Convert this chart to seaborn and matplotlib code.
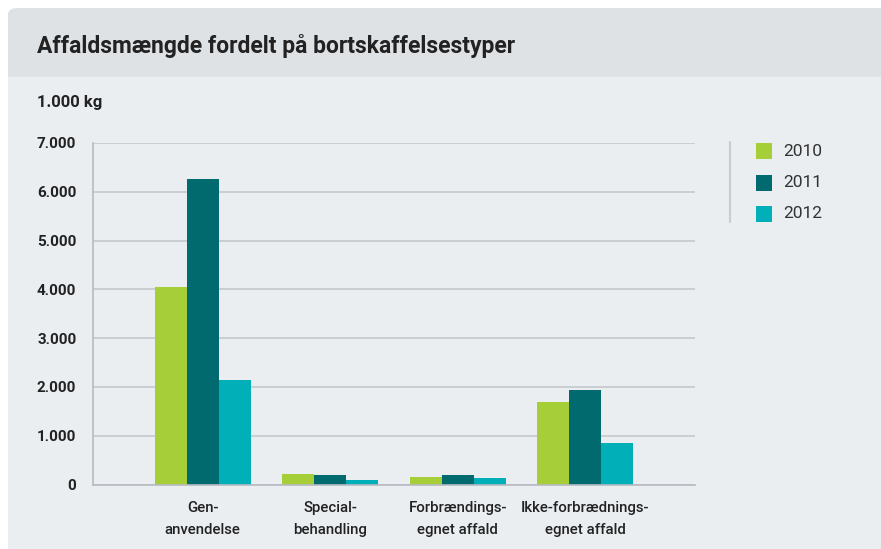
import matplotlib
matplotlib.use("Agg")
import matplotlib.pyplot as plt
import seaborn as sns
import pandas as pd
from matplotlib.patches import FancyBboxPatch, Rectangle
from matplotlib.lines import Line2D

categories = ["Gen-\nanvendelse", "Special-\nbehandling", "Forbrændings-\negnet affald", "Ikke-forbrædnings-\negnet affald"]
years = ["2010", "2011", "2012"]
values_2010 = [4055, 215, 150, 1690]
values_2011 = [6270, 190, 190, 1932]
values_2012 = [2137, 88, 130, 850]
colors = ["#a6ce39", "#006a6f", "#00afb7"]
yticks = [0, 1000, 2000, 3000, 4000, 5000, 6000, 7000]
ytick_labels = ["0", "1.000", "2.000", "3.000", "4.000", "5.000", "6.000", "7.000"]

df = pd.DataFrame({
    "cat": categories * 3,
    "year": [y for y in years for _ in categories],
    "value": values_2010 + values_2011 + values_2012,
})

sns.set_theme(style="white")
plt.rcParams["font.family"] = ["Roboto", "DejaVu Sans"]

W, H = 881, 549
fig = plt.figure(figsize=(W / 100, H / 100), dpi=100)
fig.patch.set_facecolor("white")

# card background
fig.patches.append(FancyBboxPatch((8 / W, -0.05), 1.0, (H - 8) / H + 0.05,
                                  boxstyle="round,pad=0,rounding_size=0.012",
                                  transform=fig.transFigure, facecolor="#eaeef1",
                                  edgecolor="none", zorder=-2))
fig.patches.append(FancyBboxPatch((8 / W, (H - 77) / H), 1.0, 69 / H,
                                  boxstyle="round,pad=0,rounding_size=0.012",
                                  transform=fig.transFigure, facecolor="#dfe2e5",
                                  edgecolor="none", zorder=-1))
fig.patches.append(Rectangle((8 / W, (H - 77) / H), 1.0, 20 / H,
                             transform=fig.transFigure, facecolor="#dfe2e5",
                             edgecolor="none", zorder=-1))

fig.text(37 / W, 1 - 46 / H, "Affaldsmængde fordelt på bortskaffelsestyper",
         fontsize=16.5, fontweight="bold", color="#222222", va="center", ha="left")
fig.text(37 / W, 1 - 103 / H, "1.000 kg", fontsize=12, fontweight="bold",
         color="#222222", va="center", ha="left")

ax = fig.add_axes([93 / W, 1 - 484.5 / H, (695 - 93) / W, (484.5 - 143) / H])
ax.set_facecolor("none")
sns.barplot(data=df, x="cat", y="value", hue="year", palette=colors,
            width=0.753, saturation=1, linewidth=0, ax=ax, legend=False)

ax.set_xlim(-0.86, 3.86)
ax.set_ylim(0, 7000)
ax.set_yticks(yticks)
ax.set_yticklabels(ytick_labels, fontsize=11, fontweight="bold", color="#222222")
ax.yaxis.grid(True, color="#c3c8cd", linewidth=1.2)
ax.set_axisbelow(True)
ax.tick_params(axis="both", length=0, pad=12)
ax.tick_params(axis="x", labelsize=10.8, labelcolor="#222222", pad=12)
for lbl in ax.get_xticklabels():
    lbl.set_fontweight("medium")
    lbl.set_linespacing(1.75)
ax.set_xlabel("")
ax.set_ylabel("")
for side in ["top", "right"]:
    ax.spines[side].set_visible(False)
for side in ["left", "bottom"]:
    ax.spines[side].set_color("#b5bbc0")
    ax.spines[side].set_linewidth(1.2)

# legend
fig.add_artist(Line2D([730 / W, 730 / W], [1 - 142 / H, 1 - 222 / H],
                      transform=fig.transFigure, color="#c9cdd1", linewidth=1.5))
for i, (yr, c) in enumerate(zip(years, colors)):
    yc = 151 + i * 31.5
    fig.patches.append(Rectangle((756 / W, 1 - (yc + 8) / H), 16 / W, 16 / H,
                                 transform=fig.transFigure, facecolor=c,
                                 edgecolor="none"))
    fig.text(783 / W, 1 - yc / H, yr, fontsize=12.5, color="#333333",
             va="center", ha="left")

fig.savefig("out.png", dpi=100)
